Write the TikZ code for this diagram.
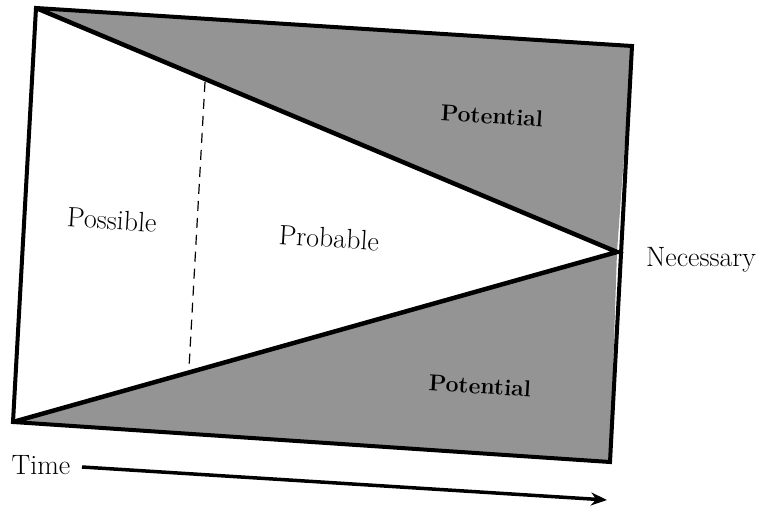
\documentclass[tikz,border=0pt]{standalone}
\usepackage{fontspec}
\usetikzlibrary{arrows.meta}
\begin{document}
\begin{tikzpicture}[x=1pt,y=-1pt,
  edge/.style={line width=4pt,line join=miter},
  lbl/.style={font=\fontsize{28}{32}\selectfont,rotate=-3.6},
  pot/.style={font=\fontsize{23}{27}\selectfont\bfseries,rotate=-3.6}]
\useasboundingbox (0,0) rectangle (764,511);
\coordinate (TL) at (36,8);
\coordinate (TR) at (632,46);
\coordinate (BR) at (610,462);
\coordinate (BL) at (13,422);
\coordinate (N) at (617,252);
\coordinate (D1) at (205,82);
\coordinate (D2) at (189,368);
\coordinate (A1) at (82,467);
\coordinate (A2) at (607,500);
\fill[black!42] (TL) -- (TR) -- (N) -- cycle;
\fill[black!42] (BL) -- (N) -- (BR) -- cycle;
\draw[edge] (TL) -- (TR) -- (BR) -- (BL) -- cycle;
\draw[edge,line width=4.5pt] (TL) -- (N) -- (BL);
\draw[dashed,line width=1.2pt,dash pattern=on 10pt off 7pt] (D1) -- (D2);
\draw[line width=3.5pt,-{Stealth[length=16pt,width=13pt]}] (A1) -- (A2);
\node[lbl] (pos) at (112,220) {Possible};
\node[lbl] (prob) at (329,238) {Probable};
\node[lbl,rotate=3.6] (nec) at (701,260) {Necessary};
\node[lbl,rotate=3.6] (time) at (41,465) {Time};
\node[pot] (p1) at (492,116) {Potential};
\node[pot] (p2) at (480,386) {Potential};
\end{tikzpicture}
\end{document}
